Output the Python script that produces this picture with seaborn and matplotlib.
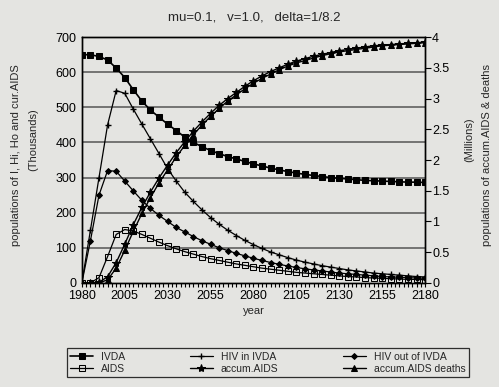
import numpy as np
import pandas as pd
import seaborn as sns
import matplotlib.pyplot as plt
from matplotlib.ticker import MultipleLocator

# values, every 5 years
years = list(range(1980, 2181, 5))

# thousands (left axis)
ivda = [650, 650, 645, 635, 612, 585, 550, 518, 492, 472, 452, 434, 415, 400, 388,
        377, 368, 360, 353, 346, 339, 333, 327, 322, 317, 313, 309, 306, 303, 300,
        298, 296, 294, 292, 291, 290, 289, 288, 287, 287, 286]
hiv_in = [0, 150, 300, 450, 548, 540, 495, 452, 410, 368, 325, 290, 258, 232, 208,
          186, 167, 150, 135, 121, 109, 98, 88, 80, 72, 65, 59, 54, 49, 45,
          41, 37, 34, 31, 28, 26, 24, 22, 20, 18, 17]
hiv_out = [0, 120, 250, 320, 318, 290, 262, 235, 212, 192, 175, 158, 145, 132, 120,
           110, 100, 92, 84, 77, 70, 64, 58, 53, 48, 44, 40, 37, 34, 31,
           28, 26, 24, 22, 20, 18, 17, 16, 15, 14, 13]
aids = [0, 0, 15, 75, 138, 152, 148, 138, 127, 116, 106, 97, 89, 82, 75,
        69, 64, 59, 54, 50, 46, 42, 39, 36, 33, 30, 28, 26, 24, 22,
        20, 18, 17, 15, 14, 13, 12, 11, 10, 10, 9]

# millions (right axis)
accum_aids = [0, 0, 0.01, 0.1, 0.33, 0.63, 0.95, 1.23, 1.48, 1.71, 1.92, 2.12, 2.3, 2.47, 2.62,
              2.76, 2.89, 3.0, 3.1, 3.2, 3.29, 3.37, 3.44, 3.5, 3.56, 3.61, 3.65, 3.69, 3.72, 3.75,
              3.78, 3.8, 3.82, 3.84, 3.86, 3.87, 3.88, 3.89, 3.9, 3.91, 3.92]
accum_deaths = [0, 0, 0, 0.05, 0.24, 0.53, 0.84, 1.13, 1.39, 1.63, 1.84, 2.05, 2.24, 2.41, 2.57,
                2.71, 2.84, 2.96, 3.06, 3.16, 3.25, 3.33, 3.4, 3.47, 3.53, 3.58, 3.62, 3.66, 3.7, 3.73,
                3.76, 3.78, 3.8, 3.82, 3.84, 3.86, 3.87, 3.88, 3.89, 3.9, 3.91]

bg = '#e4e4e1'
sns.set_theme(style='ticks')
plt.rcParams['font.family'] = ['Liberation Sans', 'DejaVu Sans']

fig = plt.figure(figsize=(4.99, 3.87), dpi=100, facecolor=bg)
ax = fig.add_axes([0.164, 0.269, 0.688, 0.635], facecolor=bg)
ax2 = ax.twinx()

for y in range(100, 701, 100):
    ax.axhline(y, color='#555555', lw=1.1, zorder=0)

sns.lineplot(x=years, y=ivda, ax=ax, color='black', lw=1.2, marker='s', markersize=4.5,
             markeredgecolor='black', label='IVDA')
sns.lineplot(x=years, y=hiv_in, ax=ax, color='black', lw=0.9, marker='+', markersize=5,
             markeredgewidth=1, markeredgecolor='black', label='HIV in IVDA')
sns.lineplot(x=years, y=hiv_out, ax=ax, color='black', lw=0.9, marker='D', markersize=3,
             markeredgecolor='black', label='HIV out of IVDA')
sns.lineplot(x=years, y=aids, ax=ax, color='black', lw=0.9, marker='s', markersize=4.5,
             markerfacecolor='none', markeredgecolor='black', label='AIDS')
sns.lineplot(x=years, y=accum_aids, ax=ax2, color='black', lw=1.0, marker='*', markersize=6,
             markeredgecolor='black', label='accum.AIDS')
sns.lineplot(x=years, y=accum_deaths, ax=ax2, color='black', lw=1.0, marker='^', markersize=5,
             markeredgecolor='black', label='accum.AIDS deaths')

ax.set_xlim(1980, 2180)
ax.set_ylim(0, 700)
ax2.set_ylim(0, 4)
ax.set_xticks(range(1980, 2181, 25))
ax.xaxis.set_minor_locator(MultipleLocator(2.5))
ax.set_yticks(range(0, 701, 100))
ax2.set_yticks(np.arange(0, 4.01, 0.5))
ax2.set_yticklabels(['0', '0.5', '1', '1.5', '2', '2.5', '3', '3.5', '4'])

for a in (ax, ax2):
    for s in a.spines.values():
        s.set_color('black')
        s.set_linewidth(1.0)
    a.tick_params(colors='black', labelsize=9, length=3, width=0.8, direction='out', pad=2)
ax.tick_params(axis='x', which='minor', length=3, width=0.8, color='black')
ax.tick_params(axis='y', length=0, pad=4)
ax2.tick_params(axis='y', length=4, pad=1)
ax.get_legend().remove()
ax2.get_legend().remove()
ax.set_xlabel('year', fontsize=8, labelpad=3)
ax.set_ylabel('')
ax2.set_ylabel('')

fig.text(0.51, 0.955, 'mu=0.1,   v=1.0,   delta=1/8.2', ha='center', va='center', fontsize=9.5)
fig.text(0.032, 0.6, 'populations of I, Hi, Ho and cur.AIDS', rotation=90, ha='center',
         va='center', fontsize=8)
fig.text(0.066, 0.64, '(Thousands)', rotation=90, ha='center', va='center', fontsize=8)
fig.text(0.975, 0.6, 'populations of accum.AIDS & deaths', rotation=90, ha='center',
         va='center', fontsize=8)
fig.text(0.94, 0.64, '(Millions)', rotation=90, ha='center', va='center', fontsize=8)

h1, l1 = ax.get_legend_handles_labels()
h2, l2 = ax2.get_legend_handles_labels()
hd = dict(zip(l1 + l2, h1 + h2))
order = ['IVDA', 'AIDS', 'HIV in IVDA', 'accum.AIDS', 'HIV out of IVDA', 'accum.AIDS deaths']
leg = fig.legend([hd[k] for k in order], order, loc='lower left', ncol=3, mode='expand',
                 bbox_to_anchor=(0.124, 0.013, 0.826, 0.108), fontsize=7.5, frameon=True,
                 fancybox=False, facecolor=bg, edgecolor='black', handlelength=2.2,
                 borderpad=0.3, labelspacing=0.2, columnspacing=1.0)
leg.get_frame().set_linewidth(0.9)

fig.savefig('out.png', dpi=100, facecolor=bg)
